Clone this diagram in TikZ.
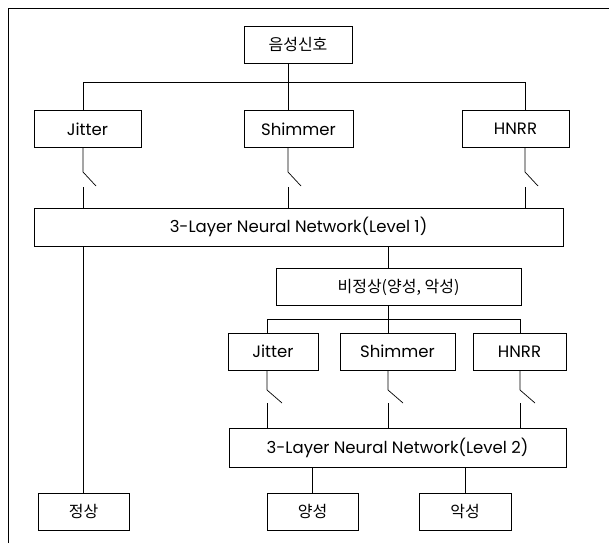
\documentclass[tikz,border=0pt]{standalone}
\usepackage{fontspec}
\setmainfont{Poppins}
\newfontfamily\kor{Noto Sans CJK KR}
\usetikzlibrary{arrows,shapes}
\tikzstyle{basicbox} = [draw, inner sep=0pt, minimum height=37pt]
\tikzstyle{korbox} = [basicbox, font=\kor\fontsize{16}{18}\selectfont]

\begin{document}
\begin{tikzpicture}[x=1pt, y=-1pt, line width=0.7pt, font=\fontsize{16.5}{18}\selectfont]
        \useasboundingbox (0,0) rectangle (609,543);
        \draw (8,543) -- (8,8) -- (609,8);
        % first level
        \path[] node[korbox, minimum width=108pt] (sig) at (298,44.5) {음성신호};
        \path[] node[basicbox, minimum width=107pt] (jit) at (87.5,129) {Jitter};
        \path[] node[basicbox, minimum width=109pt] (shim) at (298.5,129) {Shimmer};
        \path[] node[basicbox, minimum width=107pt] (hnr) at (515.5,129) {HNRR};
        \path[] node[basicbox, minimum width=529pt, minimum height=38pt] (nna) at (298.5,227) {3-Layer Neural Network(Level 1)};
        \coordinate (bus) at (0,82);
        \coordinate (ja) at (83,172);
        \coordinate (sa) at (288,172);
        \coordinate (ha) at (525,172);
        \draw (sa |- sig.south) -- (sa |- shim.north);
        \draw (ja |- jit.north) -- (ja |- bus) -- (ha |- bus) -- (ha |- hnr.north);
        % switches
        \draw (ja |- jit.south) -- (ja) -- ++(13,14);
        \draw (ja) ++(0,15) -- (ja |- nna.north);
        \draw (sa |- shim.south) -- (sa) -- ++(13,14);
        \draw (sa) ++(0,15) -- (sa |- nna.north);
        \draw (ha |- hnr.south) -- (ha) -- ++(13,14);
        \draw (ha) ++(0,15) -- (ha |- nna.north);
        % second level
        \path[] node[korbox, minimum width=245pt] (abn) at (398.5,287) {비정상(양성, 악성)};
        \path[] node[basicbox, minimum width=90pt] (jitb) at (273,351.5) {Jitter};
        \path[] node[basicbox, minimum width=115pt] (shimb) at (397.5,351.5) {Shimmer};
        \path[] node[basicbox, minimum width=93pt] (hnrb) at (519.5,351.5) {HNRR};
        \path[] node[basicbox, minimum width=337pt, minimum height=39pt] (nnb) at (397.5,447.5) {3-Layer Neural Network(Level 2)};
        \coordinate (busb) at (0,319);
        \coordinate (jb) at (267,390);
        \coordinate (sb) at (388,390);
        \coordinate (hb) at (520,390);
        \draw (sb |- nna.south) -- (sb |- abn.north);
        \draw (sb |- abn.south) -- (sb |- shimb.north);
        \draw (jb |- jitb.north) -- (jb |- busb) -- (hb |- busb) -- (hb |- hnrb.north);
        \draw (jb |- jitb.south) -- (jb) -- ++(15,13);
        \draw (jb) ++(0,13) -- (jb |- nnb.north);
        \draw (sb |- shimb.south) -- (sb) -- ++(15,13);
        \draw (sb) ++(0,13) -- (sb |- nnb.north);
        \draw (hb |- hnrb.south) -- (hb) -- ++(15,13);
        \draw (hb) ++(0,13) -- (hb |- nnb.north);
        % results
        \path[] node[korbox, minimum width=91pt] (norm) at (83.5,511.5) {정상};
        \path[] node[korbox, minimum width=91pt] (ben) at (312.5,511.5) {양성};
        \path[] node[korbox, minimum width=92pt] (mal) at (465,511.5) {악성};
        \draw (norm.north) -- (norm.north |- nna.south);
        \draw (ben.north) -- (ben.north |- nnb.south);
        \draw (mal.north) -- (mal.north |- nnb.south);
      \end{tikzpicture}
\end{document}
